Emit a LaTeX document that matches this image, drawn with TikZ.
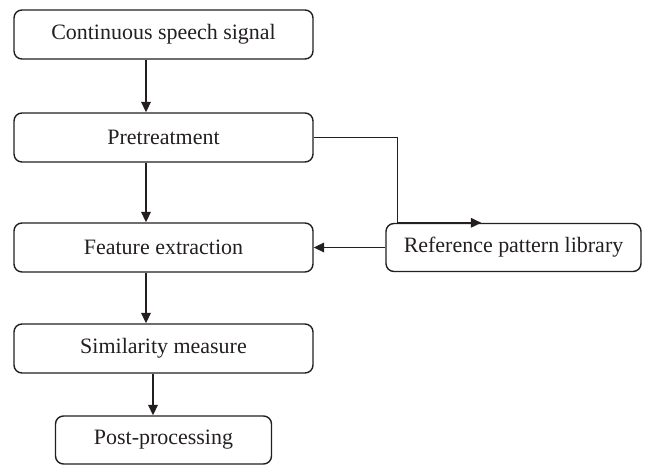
\documentclass[tikz,border=0pt]{standalone}
\usepackage{fontspec}
\setmainfont{Liberation Serif}
\usetikzlibrary{arrows.meta}
\definecolor{ink}{HTML}{231F20}
\begin{document}
\begin{tikzpicture}[x=0.02cm,y=-0.02cm]
\tikzstyle{block}=[draw=ink,text=ink,rounded corners=4.5pt,line width=0.8pt,minimum height=0.98cm,inner sep=0pt,font=\fontsize{12.5}{14}\selectfont]
\tikzstyle{flow}=[draw=ink,line width=0.8pt,-{Triangle[length=6pt,width=5.5pt]}]
\useasboundingbox (0,0) rectangle (645,465);
\path (163.5,34.5) node[block,minimum width=5.98cm](sig){Continuous speech signal};
\path (163.5,137.5) node[block,minimum width=5.98cm](pre){Pretreatment};
\path (163.5,247.5) node[block,minimum width=5.98cm](feat){Feature extraction};
\path (163.5,348.5) node[block,minimum width=5.98cm](sim){Similarity measure};
\path (163.5,440) node[block,minimum width=4.32cm,minimum height=0.96cm](post){Post-processing};
\path (513.5,247.5) node[block,minimum width=5.1cm,minimum height=0.96cm](ref){Reference pattern library};
\draw[flow] ([xshift=-0.35cm]sig.south) -- ([xshift=-0.35cm]pre.north);
\draw[flow] ([xshift=-0.35cm]pre.south) -- ([xshift=-0.35cm]feat.north);
\draw[flow] ([xshift=-0.35cm]feat.south) -- ([xshift=-0.35cm]sim.north);
\draw[flow] ([xshift=-0.21cm]sim.south) -- ([xshift=-0.21cm]post.north);
\draw[flow] (pre.east) -| ([xshift=0.24cm]ref.north west) -- ([xshift=1.92cm]ref.north west);
\draw[flow] (ref.west) -- (feat.east);
\end{tikzpicture}
\end{document}
